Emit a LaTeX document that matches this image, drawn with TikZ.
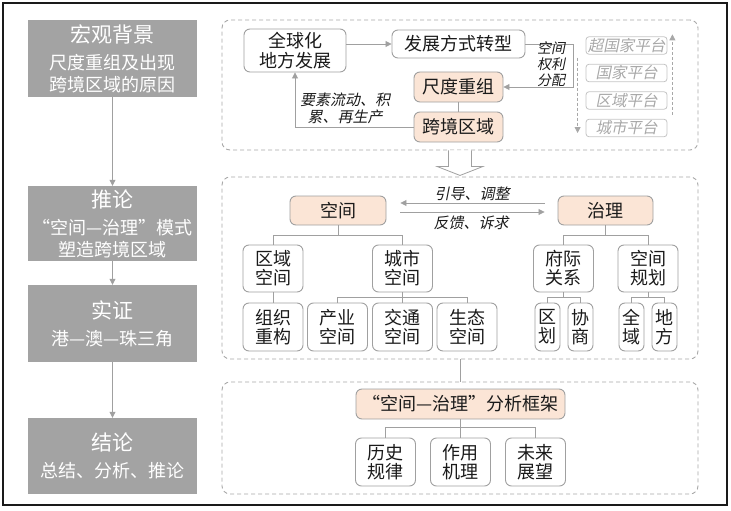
\documentclass[tikz,border=0pt]{standalone}
\usepackage{fontspec}
\setmainfont{Noto Sans CJK SC}
\newfontfamily\slantcjk{Noto Sans CJK SC}[FakeSlant=0.2]
\usepackage{tikz}
\usetikzlibrary{arrows.meta,calc}
\definecolor{ink}{HTML}{1A1A1A}
\definecolor{paper}{HTML}{FFFFFF}
\definecolor{rule}{HTML}{A0A0A0}
\definecolor{stone}{HTML}{A3A3A3}
\definecolor{peach}{HTML}{FBE5D6}
\definecolor{faint}{HTML}{C4C4C4}
\definecolor{mute}{HTML}{A8A8A8}
\tikzset{
  stage/.style={fill=stone,text=white,minimum width=169pt,inner sep=0pt,align=center,font=\fontsize{18}{22}\selectfont},
  panel/.style={draw=mute,line width=0.9pt,dash pattern=on 4pt off 3pt,rounded corners=8pt,minimum width=476pt,inner sep=0pt},
  box/.style={draw=rule,line width=0.9pt,rounded corners=6pt,fill=paper,inner sep=0pt,align=center,text=ink,font=\fontsize{18}{19}\selectfont},
  key/.style={box,fill=peach},
  leaf/.style={box,minimum width=60pt,minimum height=47pt},
  slim/.style={box,minimum width=25pt,minimum height=48pt},
  tier/.style={draw=faint,line width=0.8pt,rounded corners=3pt,minimum width=81pt,minimum height=17.5pt,inner sep=0pt,text=mute,font=\slantcjk\fontsize{15.5}{16}\selectfont},
  ev/.style={font=\slantcjk\fontsize{15}{17}\selectfont,text=ink,inner sep=0pt,align=center},
  fl/.style={-{Triangle[length=6pt,width=6pt]},draw=rule,line width=0.8pt},
  dfl/.style={fl,draw=mute,dash pattern=on 3pt off 2pt},
  ln/.style={draw=rule,line width=0.8pt},
  hollow/.style={draw=rule,fill=paper,line width=0.8pt,line join=miter},
  >=Stealth}

\begin{document}
\begin{tikzpicture}[x=1pt,y=-1pt]
\useasboundingbox (0,0) rectangle (731,511);
\draw[ink,line width=1.2pt] (3,3) rectangle (727,505);

% left column
\node[stage,minimum height=77pt] (bg) at (112.5,58.5)
  {{\fontsize{21}{26}\selectfont 宏观背景}\\[5pt]尺度重组及出现\\跨境区域的原因};
\node[stage,minimum height=75pt] (inf) at (112.5,223.5)
  {{\fontsize{21}{26}\selectfont 推论}\\[5pt]“空间—治理”模式\\塑造跨境区域};
\node[stage,minimum height=77pt] (emp) at (112.5,323.5)
  {{\fontsize{21}{26}\selectfont 实证}\\[5pt]港—澳—珠三角};
\node[stage,minimum height=76pt] (con) at (112.5,456)
  {{\fontsize{21}{26}\selectfont 结论}\\[5pt]总结、分析、推论};
\draw[fl] (bg) -- (inf);
\draw[fl] (inf) -- (emp);
\draw[fl] (emp) -- (con);

% panels
\node[panel,minimum height=130pt] (p1) at (460,85) {};
\node[panel,minimum height=182pt] (p2) at (460,268) {};
\node[panel,minimum height=112pt] (p3) at (460,438) {};
\draw[hollow] ($(p1.south)+(-11.5,0)$) -- ++(0,16) -- ++(-11.5,0)
  -- ($(p1.south)+(0,25)$) -- ++(23,-9) -- ++(-11.5,0) -- ++(0,-16);
\draw[ln] (p2.south) -- (p3.north);

% panel 1
\node[box,minimum width=102pt,minimum height=43pt,font=\fontsize{18}{20}\selectfont] (glob) at (295,50.5) {全球化\\地方发展};
\node[box,minimum width=133pt,minimum height=28pt] (shift) at (458.5,44) {发展方式转型};
\node[key,minimum width=89pt,minimum height=30pt] (rescale) at (458.5,87) {尺度重组};
\node[key,minimum width=89pt,minimum height=30pt] (cross) at (458.5,127) {跨境区域};
\draw[fl] (glob.east |- shift.west) -- (shift.west);
\draw[fl] (shift.east) -- ++(48,0) |- (rescale.east);
\draw[ln] (rescale) -- (cross);
\draw[fl] (cross.west) -| (glob.south);
\node[ev,font=\slantcjk\fontsize{14}{16}\selectfont] (alloc) at (551,64) {空间\\权利\\分配};
\node[ev] (flow) at (345,108.5) {要素流动、积\\累、再生产};

\foreach \t/\y [count=\i] in {超国家平台/45.5,国家平台/73,区域平台/100.5,城市平台/128}
  \node[tier] (t\i) at (626.5,\y) {\t};
\draw[dfl] ([xshift=-8pt,yshift=-3pt]t1.south west) -- ([xshift=-8pt,yshift=-5pt]t4.west);
\draw[dfl] ([xshift=5pt,yshift=4pt]t4.north east) -- ([xshift=5pt,yshift=2pt]t1.north east);

% panel 2
\node[key,minimum width=96pt,minimum height=29pt] (space) at (338,210.5) {空间};
\node[key,minimum width=95pt,minimum height=29pt] (gov) at (605.5,210.5) {治理};
\draw[fl,shorten <=13pt,shorten >=14pt] ([yshift=7.5pt]gov.west) -- ([yshift=7.5pt]space.east);
\draw[fl,shorten <=14pt,shorten >=13pt] ([yshift=-1.5pt]space.east) -- ([yshift=-1.5pt]gov.west);
\node[ev] (guide) at (472,194) {引导、调整};
\node[ev] (feed) at (471,223) {反馈、诉求};

\node[leaf] (reg) at (273,268.5) {区域\\空间};
\node[leaf] (urb) at (402.5,268.5) {城市\\空间};
\node[leaf,minimum height=48pt] (org) at (273,327) {组织\\重构};
\node[leaf,minimum height=48pt] (ind) at (337.5,327) {产业\\空间};
\node[leaf,minimum height=48pt] (tra) at (402.5,327) {交通\\空间};
\node[leaf,minimum height=48pt] (eco) at (467,327) {生态\\空间};
\node[leaf] (inter) at (563.5,268.5) {府际\\关系};
\node[leaf] (plan) at (648,268.5) {空间\\规划};
\node[slim] (zon) at (547.5,327) {区\\划};
\node[slim] (neg) at (580.5,327) {协\\商};
\node[slim] (whole) at (631.5,327) {全\\域};
\node[slim] (local) at (664.5,327) {地\\方};

\draw[ln] (space.south) -- ++(0,10) -| (reg.north);
\draw[ln] (space.south) -- ++(0,10) -| (urb.north);
\draw[ln] (reg) -- (org);
\foreach \c in {ind,tra,eco}
  \draw[ln] (urb.south) -- ++(0,5) -| (\c.north);
\draw[ln] (gov.south) -- ++(0,10) -| (inter.north);
\draw[ln] (gov.south) -- ++(0,10) -| (plan.north);
\foreach \c in {zon,neg}
  \draw[ln] (inter.south) -- ++(0,5) -| (\c.north);
\foreach \c in {whole,local}
  \draw[ln] (plan.south) -- ++(0,5) -| (\c.north);

% panel 3
\node[key,minimum width=209pt,minimum height=30pt] (frame) at (460.5,404) {“空间—治理”分析框架};
\node[leaf,minimum height=48pt] (hist) at (385.5,462) {历史\\规律};
\node[leaf,minimum height=48pt] (mech) at (460.5,462) {作用\\机理};
\node[leaf,minimum height=48pt] (fut) at (535.5,462) {未来\\展望};
\foreach \c in {hist,mech,fut}
  \draw[ln] (frame.south) -- ++(0,8) -| (\c.north);
\end{tikzpicture}
\end{document}
